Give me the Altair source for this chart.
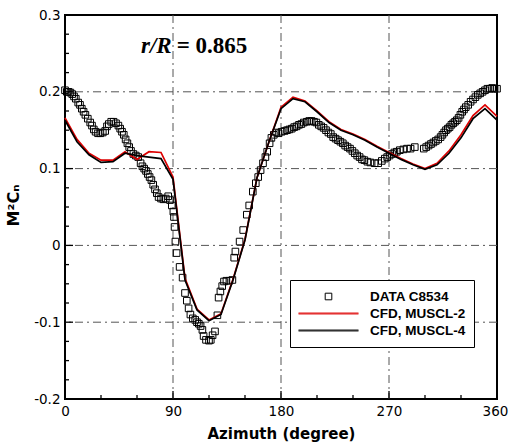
import altair as alt
import pandas as pd

# ---------------- data ----------------
exp_az = [0, 1.5, 3, 4.5, 6, 7.5, 9, 11, 12.5, 14, 15.5, 17, 19, 21, 22.5, 24, 25.5, 27.5, 29.5,
          31.5, 33.5, 35, 36.5, 38.5, 40.5, 42.5, 44.5, 46, 47.5, 49, 50.5, 52, 53.5, 55, 57, 59,
          61, 63, 64.5, 66, 67.5, 69, 70.5, 72, 73.5, 75, 76.5, 78, 80, 82, 84, 86, 87.5, 89,
          90.3, 90.8, 91.3, 92, 93, 95.5, 98, 100, 101.5, 103, 104.5, 106.5, 108.5, 110, 111.5,
          113, 114.5, 115.5, 117.5, 120, 121.5, 123, 125, 127, 128, 129.5, 131, 132.5, 134.5,
          137, 139.5, 141, 142, 145.5, 148.5, 151.5, 153.5, 156.5, 159, 161, 163, 165, 167,
          168.5, 170.5, 172, 174, 176, 178, 180.5, 183, 185, 187, 189, 191, 193, 195, 197, 199,
          201.5, 203.5, 205.5, 207.5, 209.5, 211.5, 213.5, 215.5, 217.5, 219.5, 221.5, 223.5,
          225.5, 227.5, 229.5, 231.5, 233.5, 235.5, 237.5, 239.5, 241.5, 243.5, 245.5, 247.5,
          249.5, 252, 254.5, 258, 261, 264, 266.5, 268.5, 270.5, 272.5, 274.5, 276.5, 279, 282,
          285, 288, 291.5, 299, 301, 303, 305, 307, 309, 311, 313, 314.5, 316, 317.5, 319,
          320.5, 322, 323.5, 325, 326.5, 328, 329.5, 331, 332.5, 334, 336, 338, 340, 342, 344,
          346, 348, 350, 352, 354, 356, 358, 360]
exp_cn = [0.202, 0.200, 0.200, 0.199, 0.197, 0.194, 0.191, 0.186, 0.183, 0.178, 0.174, 0.170,
          0.165, 0.160, 0.156, 0.151, 0.148, 0.146, 0.146, 0.147, 0.149, 0.155, 0.158, 0.161,
          0.161, 0.159, 0.156, 0.152, 0.148, 0.144, 0.138, 0.133, 0.128, 0.123, 0.119, 0.117,
          0.115, 0.107, 0.103, 0.100, 0.097, 0.093, 0.089, 0.085, 0.079, 0.073, 0.068, 0.063,
          0.061, 0.060, 0.061, 0.064, 0.059, 0.052, 0.044, 0.037, 0.024, 0.005, -0.010, -0.028,
          -0.042, -0.062, -0.072, -0.082, -0.090, -0.095, -0.097, -0.100, -0.102, -0.105,
          -0.110, -0.118, -0.123, -0.124, -0.123, -0.117, -0.112, -0.091, -0.068, -0.060,
          -0.053, -0.047, -0.046, -0.046, -0.045, -0.016, -0.008, 0.005, 0.020, 0.040, 0.052,
          0.070, 0.081, 0.089, 0.098, 0.107, 0.115, 0.122, 0.133, 0.140, 0.144, 0.147, 0.146,
          0.148, 0.149, 0.150, 0.151, 0.152, 0.154, 0.155, 0.157, 0.158, 0.160, 0.161, 0.162,
          0.162, 0.161, 0.160, 0.157, 0.155, 0.153, 0.150, 0.147, 0.145, 0.141, 0.139, 0.137,
          0.135, 0.133, 0.130, 0.128, 0.126, 0.123, 0.120, 0.117, 0.115, 0.112, 0.111, 0.109,
          0.108, 0.107, 0.107, 0.110, 0.113, 0.115, 0.117, 0.119, 0.121, 0.122, 0.124, 0.125,
          0.126, 0.126, 0.128, 0.126, 0.128, 0.130, 0.132, 0.134, 0.136, 0.138, 0.141, 0.144,
          0.147, 0.150, 0.152, 0.154, 0.157, 0.159, 0.161, 0.163, 0.166, 0.170, 0.174, 0.177,
          0.180, 0.183, 0.187, 0.190, 0.193, 0.196, 0.198, 0.200, 0.202, 0.204, 0.204, 0.205,
          0.204, 0.204]

cfd_az = [0, 10, 20, 30, 40, 50, 60, 70, 80, 90, 100, 110, 120, 130, 140, 150, 160, 170, 180,
          190, 200, 210, 220, 230, 240, 250, 260, 270, 280, 290, 300, 310, 320, 330, 340, 350, 360]
muscl2 = [0.166, 0.138, 0.120, 0.111, 0.111, 0.122, 0.112, 0.122, 0.121, 0.089, -0.043, -0.083,
          -0.097, -0.089, -0.044, 0.008, 0.088, 0.135, 0.180, 0.193, 0.188, 0.175, 0.161, 0.151,
          0.145, 0.138, 0.129, 0.121, 0.113, 0.106, 0.100, 0.107, 0.123, 0.144, 0.169, 0.183,
          0.168]
muscl4 = [0.163, 0.135, 0.118, 0.108, 0.109, 0.120, 0.117, 0.115, 0.113, 0.086, -0.045, -0.084,
          -0.098, -0.090, -0.045, 0.007, 0.088, 0.135, 0.178, 0.191, 0.187, 0.174, 0.160, 0.150,
          0.144, 0.137, 0.128, 0.120, 0.112, 0.105, 0.099, 0.105, 0.120, 0.140, 0.165, 0.178,
          0.163]

series_names = ["DATA C8534", "CFD, MUSCL-2", "CFD, MUSCL-4"]
series_colors = ["#000000", "#dd0000", "#000000"]

x_major = [0, 90, 180, 270, 360]
x_minor = [30, 60, 120, 150, 210, 240, 300, 330]
y_major = [-0.2, -0.1, 0, 0.1, 0.2, 0.3]
y_minor = [-0.175, -0.15, -0.125, -0.075, -0.05, -0.025, 0.025, 0.05, 0.075,
           0.125, 0.15, 0.175, 0.225, 0.25, 0.275]
grid_x = [90, 180, 270]
grid_y = [-0.1, 0, 0.1, 0.2]

note_left = ["r/R"]
note_right = ["= 0.865"]
note_x_left = [88.9]
note_x_right = [93.1]
note_y = [0.260]

# ---------------- frames ----------------
exp_df = pd.DataFrame({"az": exp_az, "cn": exp_cn, "series": series_names[0]})
cfd_df = pd.concat([
    pd.DataFrame({"az": cfd_az, "cn": muscl2, "series": series_names[1]}),
    pd.DataFrame({"az": cfd_az, "cn": muscl4, "series": series_names[2]}),
], ignore_index=True)

W, H = 432, 384

x_scale = alt.Scale(domain=[0, 360], nice=False, zero=False)
y_scale = alt.Scale(domain=[-0.2, 0.3], nice=False, zero=False)

x_axis = alt.Axis(values=x_major, grid=False, ticks=False, tickSize=0, domain=False,
                  labelFont="DejaVu Sans", labelFontSize=13.5, labelColor="black",
                  labelPadding=5, labelFlush=False, labelOverlap=False,
                  labelOffset={"condition": {"test": "datum.value == 360", "value": -2},
                               "value": 0},
                  titleFont="DejaVu Sans", titleFontSize=15, titleFontWeight="bold",
                  titleColor="black", titleY=34, titleBaseline="middle")
y_axis = alt.Axis(values=y_major, grid=False, ticks=False, tickSize=0, domain=False,
                  labelFont="DejaVu Sans", labelFontSize=13.5, labelColor="black",
                  labelPadding=5, labelOverlap=False, labelExpr="toString(datum.value)",
                  titleFont="DejaVu Sans", titleFontSize=16, titleFontWeight="bold",
                  titleColor="black", titleX=-52, titleY=190, titleAngle=-90,
                  titleAlign="center", titleBaseline="middle")

X_TITLE = "Azimuth (degree)"
Y_TITLE = "M²Cₙ"


def X(field):
    return alt.X(field, type="quantitative", scale=x_scale, axis=x_axis, title=X_TITLE)


def Y(field):
    return alt.Y(field, type="quantitative", scale=y_scale, axis=y_axis, title=Y_TITLE)


grid_dash = [8, 4, 2, 4]
gx = alt.Chart(pd.DataFrame({"v": grid_x})).mark_rule(
    color="#555555", strokeWidth=1, strokeDash=grid_dash).encode(x=X("v"))
gy = alt.Chart(pd.DataFrame({"v": grid_y})).mark_rule(
    color="#555555", strokeWidth=1, strokeDash=grid_dash).encode(y=Y("v"))

tick_x_major = alt.Chart(pd.DataFrame({"v": x_major})).mark_rule(
    color="black", strokeWidth=1.3).encode(x=X("v"), y=alt.value(H), y2=alt.value(H - 8))
tick_x_minor = alt.Chart(pd.DataFrame({"v": x_minor})).mark_rule(
    color="black", strokeWidth=1.3).encode(x=X("v"), y=alt.value(H), y2=alt.value(H - 4))
tick_y_major = alt.Chart(pd.DataFrame({"v": y_major})).mark_rule(
    color="black", strokeWidth=1.3).encode(y=Y("v"), x=alt.value(0), x2=alt.value(8))
tick_y_minor = alt.Chart(pd.DataFrame({"v": y_minor})).mark_rule(
    color="black", strokeWidth=1.3).encode(y=Y("v"), x=alt.value(0), x2=alt.value(4))

square_path = "M-0.11,-0.11H0.11V0.11H-0.11Z"
line_path = "M-1,-0.015H1M-1,0.015H1"

legend = alt.Legend(title=None, orient="none", legendX=225, legendY=265,
                    fillColor="white", strokeColor="black", padding=8,
                    symbolSize=3600, symbolStrokeWidth=1, clipHeight=17, rowPadding=0,
                    labelFont="Liberation Sans", labelFontWeight="bold", labelFontSize=13.5,
                    labelColor="black", labelOffset=11)

color_enc = alt.Color("series:N", scale=alt.Scale(domain=series_names, range=series_colors),
                      legend=legend)
shape_enc = alt.Shape("series:N", scale=alt.Scale(domain=series_names,
                                                  range=[square_path, line_path, line_path]),
                      legend=legend)

points = alt.Chart(exp_df).mark_point(filled=False, strokeWidth=1, size=3600, opacity=1).encode(
    x=X("az"), y=Y("cn"), color=color_enc, shape=shape_enc)

lines = alt.Chart(cfd_df).mark_line(strokeWidth=1.7).encode(
    x=X("az"), y=Y("cn"), color=color_enc, order="az:Q")

note1 = alt.Chart(pd.DataFrame({"x": note_x_left, "y": note_y, "t": note_left})).mark_text(
    font="Liberation Serif", fontSize=23, fontWeight="bold", fontStyle="italic",
    align="right", baseline="middle", color="black").encode(x=X("x"), y=Y("y"), text="t:N")
note2 = alt.Chart(pd.DataFrame({"x": note_x_right, "y": note_y, "t": note_right})).mark_text(
    font="Liberation Serif", fontSize=23, fontWeight="bold",
    align="left", baseline="middle", color="black").encode(x=X("x"), y=Y("y"), text="t:N")

chart = alt.layer(gx, gy, points, lines, tick_x_major, tick_x_minor, tick_y_major, tick_y_minor,
                  note1, note2).properties(
    width=W, height=H,
    autosize=alt.AutoSizeParams(type="none"),
    padding={"left": 65, "top": 15, "right": 12, "bottom": 48},
    background="white",
).configure_view(stroke="black", strokeWidth=2)

chart.save("out.html", embed_options={"renderer": "svg", "actions": False})
